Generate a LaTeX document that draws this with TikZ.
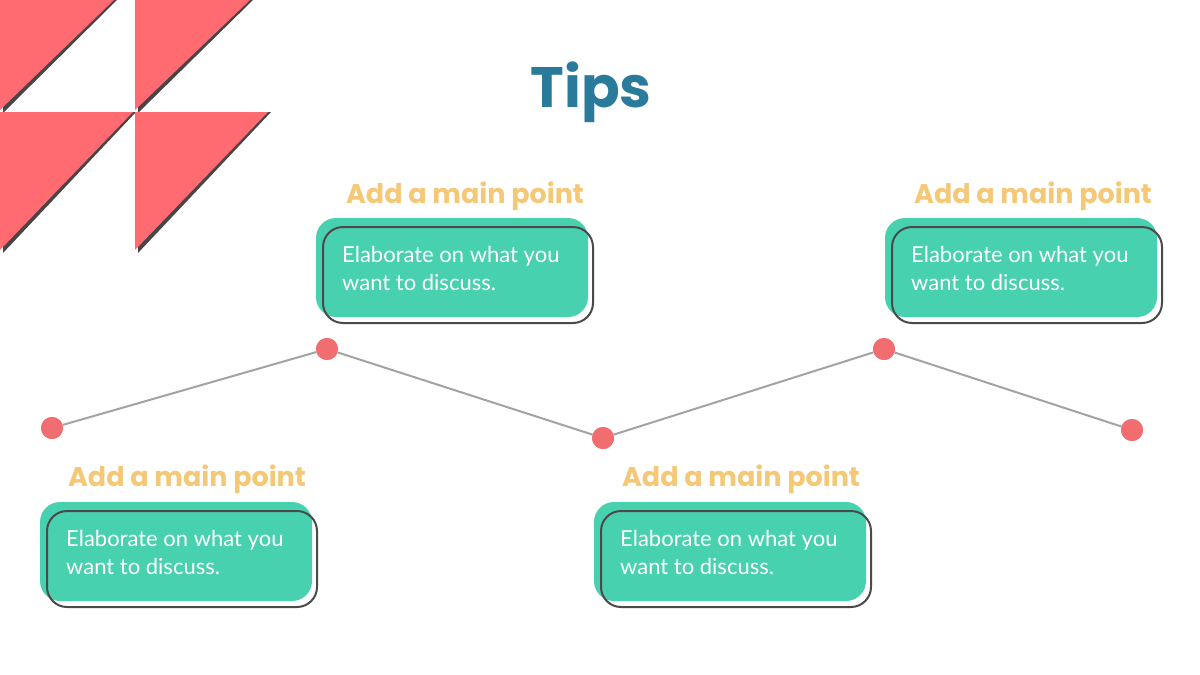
\documentclass[tikz,border=0pt]{standalone}
\usepackage{fontspec}
\setmainfont{Poppins}
\newfontfamily\bodyfont{Lato}
\definecolor{pinkc}{HTML}{FF6B70}
\definecolor{shadowc}{HTML}{4A4446}
\definecolor{tealc}{HTML}{48D1AE}
\definecolor{titlec}{HTML}{2A7A9B}
\definecolor{headc}{HTML}{F5C878}
\definecolor{linec}{HTML}{A3A3A3}
\definecolor{dotc}{HTML}{F26D70}
\definecolor{outlinec}{HTML}{4A4A4A}
\begin{document}
\begin{tikzpicture}[x=1pt,y=-1pt,
  dotnode/.style={circle,fill=dotc,minimum size=22pt,inner sep=0pt},
  tealbox/.style={fill=tealc,rounded corners=20pt},
  outlinebox/.style={draw=outlinec,line width=2pt,rounded corners=20pt},
  heading/.style={text=headc,font=\fontsize{27}{30}\selectfont\bfseries,anchor=center},
  bodytext/.style={text=white,font=\bodyfont\fontsize{22}{28}\selectfont,anchor=north west,align=left,inner sep=0pt},
  conn/.style={draw=linec,line width=2pt}]
\useasboundingbox (0,0) rectangle (1200,675);
\fill[white] (0,0) rectangle (1200,675);
% corner triangles
\begin{scope}
\clip (0,0) rectangle (1200,675);
\foreach \dx/\dy/\w/\h in {0/0/114/110, 135/0/115/110, 0/112/133/138, 135/112/133/138}{
  \fill[shadowc] (\dx+3,\dy) -- (\dx+\w+3,\dy) -- (\dx+3,\dy+\h+3) -- cycle;
  \fill[pinkc] (\dx,\dy) -- (\dx+\w,\dy) -- (\dx,\dy+\h) -- cycle;
}
\end{scope}
% title
\node[text=titlec,font=\fontsize{57}{66}\selectfont\bfseries,anchor=base] (title) at (591,107) {Tips};
% connectors
\node[dotnode] (d1) at (52,428) {};
\node[dotnode] (d2) at (327,349) {};
\node[dotnode] (d3) at (603,438) {};
\node[dotnode] (d4) at (884,349) {};
\node[dotnode] (d5) at (1132,430) {};
\draw[conn] (d1) -- (d2) -- (d3) -- (d4) -- (d5);
\foreach \n in {d1,d2,d3,d4,d5}{\node[dotnode] at (\n) {};}
% boxes
\foreach \bx/\by/\hx/\hy/\nm in {316/218/465/196/a, 885/218/1033/196/b, 40/502/187/479/c, 594/502/741/479/d}{
  \fill[tealbox] (\bx,\by) rectangle (\bx+272,\by+99);
  \draw[outlinebox] (\bx+7,\by+9) rectangle (\bx+277,\by+105);
  \node[heading] (h\nm) at (\hx,\hy) {Add a main point};
  \node[bodytext] (t\nm) at (\bx+26,\by+28) {Elaborate on what you\\want to discuss.};
}
\end{tikzpicture}
\end{document}
